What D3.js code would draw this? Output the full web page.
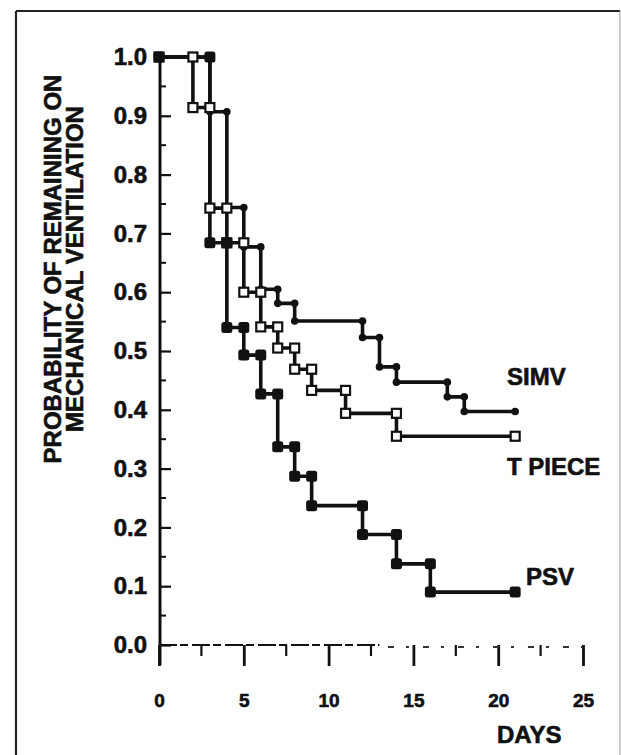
<!DOCTYPE html>
<html>
<head>
<meta charset="utf-8">
<script src="https://cdn.jsdelivr.net/npm/d3@7/dist/d3.min.js"></script>
<style>
  body { margin: 0; background: #fff; }
  svg { display: block; }
  text { font-family: "Liberation Sans", Arial, sans-serif; font-weight: bold; fill: #111; stroke: #111; stroke-width: 0.6px; }
</style>
</head>
<body>
<svg id="chart" width="621" height="755"></svg>
<script>
// step curves: each level holds from days[i] to days[i+1]
var psvDays = [0, 3, 4, 5, 6, 7, 8, 9, 12, 14, 16, 21];
var psvProb = [1.0, 0.684, 0.54, 0.493, 0.427, 0.337, 0.287, 0.237, 0.188, 0.138, 0.09];

var tpieceDays = [0, 2, 3, 4, 5, 6, 7, 8, 9, 11, 14, 21];
var tpieceProb = [1.0, 0.914, 0.743, 0.684, 0.60, 0.541, 0.505, 0.469, 0.433, 0.394, 0.355];

var simvDays = [0, 3, 4, 5, 6, 7, 8, 12, 13, 14, 17, 18, 21];
var simvProb = [1.0, 0.907, 0.744, 0.677, 0.605, 0.581, 0.551, 0.523, 0.473, 0.447, 0.422, 0.397];

var xTicks = [0, 5, 10, 15, 20, 25];
var xMinor = [2.5, 7.5, 12.5, 17.5, 22.5];
var yTicks = [0, 0.1, 0.2, 0.3, 0.4, 0.5, 0.6, 0.7, 0.8, 0.9, 1.0];
var yMinor = [0.05, 0.15, 0.25, 0.35, 0.45, 0.55, 0.65, 0.75, 0.85, 0.95];

var svg = d3.select('#chart');

var x = d3.scaleLinear().domain([0, 25]).range([159, 583]);
var y = d3.scaleLinear().domain([0, 1]).range([645, 57]);

// frame around the figure
svg.append('line').attr('x1', 16).attr('y1', 11).attr('x2', 620).attr('y2', 11)
    .attr('stroke', '#222').attr('stroke-width', 2.2);
svg.append('line').attr('x1', 16).attr('y1', 11).attr('x2', 16).attr('y2', 755)
    .attr('stroke', '#222').attr('stroke-width', 2.2);
svg.append('line').attr('x1', 620).attr('y1', 11).attr('x2', 620).attr('y2', 755)
    .attr('stroke', '#999').attr('stroke-width', 1);

// y axis
var yAxis = d3.axisLeft(y)
    .tickValues(yTicks)
    .tickFormat(d3.format('.1f'))
    .tickSizeInner(-11)
    .tickSizeOuter(0)
    .tickPadding(13);

var gy = svg.append('g').attr('transform', 'translate(160,0)').call(yAxis);
gy.select('.domain').remove();
gy.selectAll('.tick line').attr('stroke', '#111').attr('stroke-width', 2.2);
gy.selectAll('.tick text').attr('font-size', 24).attr('fill', '#111')
    .attr('font-family', '"Liberation Sans", Arial, sans-serif').attr('font-weight', 'bold');

gy.selectAll('.minor').data(yMinor).enter()
    .append('line').attr('class', 'minor')
    .attr('x1', 0).attr('x2', 6)
    .attr('y1', function(d) { return y(d); })
    .attr('y2', function(d) { return y(d); })
    .attr('stroke', '#111').attr('stroke-width', 2);

gy.append('line')
    .attr('x1', 0).attr('x2', 0)
    .attr('y1', y(1)).attr('y2', y(0) + 20)
    .attr('stroke', '#111').attr('stroke-width', 3);

// x axis (broken line as in the print)
var xAxis = d3.axisBottom(x)
    .tickValues(xTicks)
    .tickSizeInner(21)
    .tickSizeOuter(0)
    .tickPadding(28);

var gx = svg.append('g').attr('transform', 'translate(0,' + y(0) + ')').call(xAxis);
gx.select('.domain').remove();
gx.selectAll('.tick line').attr('stroke', '#111').attr('stroke-width', 2.8);
gx.selectAll('.tick text').attr('font-size', 19).attr('fill', '#111')
    .attr('font-family', '"Liberation Sans", Arial, sans-serif').attr('font-weight', 'bold');

gx.selectAll('.minor').data(xMinor).enter()
    .append('line').attr('class', 'minor')
    .attr('x1', function(d) { return x(d); })
    .attr('x2', function(d) { return x(d); })
    .attr('y1', 0).attr('y2', 11)
    .attr('stroke', '#111').attr('stroke-width', 2.2);

gx.append('line')
    .attr('x1', x(0)).attr('x2', x(13))
    .attr('y1', 0).attr('y2', 0)
    .attr('stroke', '#111').attr('stroke-width', 2.2)
    .attr('stroke-dasharray', '18,3,8,4');
gx.append('line')
    .attr('x1', x(13.5)).attr('x2', x(25))
    .attr('y1', 2).attr('y2', 2)
    .attr('stroke', '#333').attr('stroke-width', 1.8)
    .attr('stroke-dasharray', '6,12,3,14');

// y axis title, two rotated lines
var ty = svg.append('g').attr('transform', 'translate(0,269) rotate(-90)');
ty.append('text').attr('x', 0).attr('y', 61)
    .attr('text-anchor', 'middle').attr('font-size', 24)
    .text('PROBABILITY OF REMAINING ON');
ty.append('text').attr('x', 0).attr('y', 83)
    .attr('text-anchor', 'middle').attr('font-size', 24)
    .text('MECHANICAL VENTILATION');

svg.append('text').attr('x', 497).attr('y', 743)
    .attr('font-size', 24).text('DAYS');

// survival curves
function stepPoints(days, prob) {
    var pts = prob.map(function(p, i) { return [days[i], p]; });
    pts.push([days[days.length - 1], prob[prob.length - 1]]);
    return pts;
}

function markerPoints(days, prob) {
    var pts = [];
    prob.forEach(function(p, i) {
        pts.push([days[i], p]);
        pts.push([days[i + 1], p]);
    });
    return pts;
}

var line = d3.line()
    .x(function(d) { return x(d[0]); })
    .y(function(d) { return y(d[1]); })
    .curve(d3.curveStepAfter);

var series = [
    { name: 'SIMV', days: simvDays, prob: simvProb, mark: 'dot' },
    { name: 'T PIECE', days: tpieceDays, prob: tpieceProb, mark: 'open' },
    { name: 'PSV', days: psvDays, prob: psvProb, mark: 'filled' }
];

series.forEach(function(s) {
    svg.append('path')
        .attr('d', line(stepPoints(s.days, s.prob)))
        .attr('fill', 'none')
        .attr('stroke', '#111')
        .attr('stroke-width', 3.6)
        .attr('stroke-linejoin', 'round');
});

series.forEach(function(s) {
    var g = svg.append('g').attr('class', 'marks');
    var pts = markerPoints(s.days, s.prob);
    if (s.mark === 'dot') {
        g.selectAll('circle').data(pts).enter().append('circle')
            .attr('cx', function(d) { return x(d[0]); })
            .attr('cy', function(d) { return y(d[1]); })
            .attr('r', 3.8)
            .attr('fill', '#111');
    } else if (s.mark === 'open') {
        g.selectAll('rect').data(pts).enter().append('rect')
            .attr('x', function(d) { return x(d[0]) - 4.5; })
            .attr('y', function(d) { return y(d[1]) - 4.5; })
            .attr('width', 9).attr('height', 9)
            .attr('fill', '#fff')
            .attr('stroke', '#111').attr('stroke-width', 2.2);
    } else {
        g.selectAll('rect').data(pts).enter().append('rect')
            .attr('x', function(d) { return x(d[0]) - 5.5; })
            .attr('y', function(d) { return y(d[1]) - 5.5; })
            .attr('width', 11).attr('height', 11)
            .attr('rx', 2.5)
            .attr('fill', '#111');
    }
});

// curve labels
svg.append('text').attr('x', 507).attr('y', 385).attr('font-size', 24).text('SIMV');
svg.append('text').attr('x', 507).attr('y', 475).attr('font-size', 24).text('T PIECE');
svg.append('text').attr('x', 526).attr('y', 585).attr('font-size', 24).text('PSV');
</script>
</body>
</html>
